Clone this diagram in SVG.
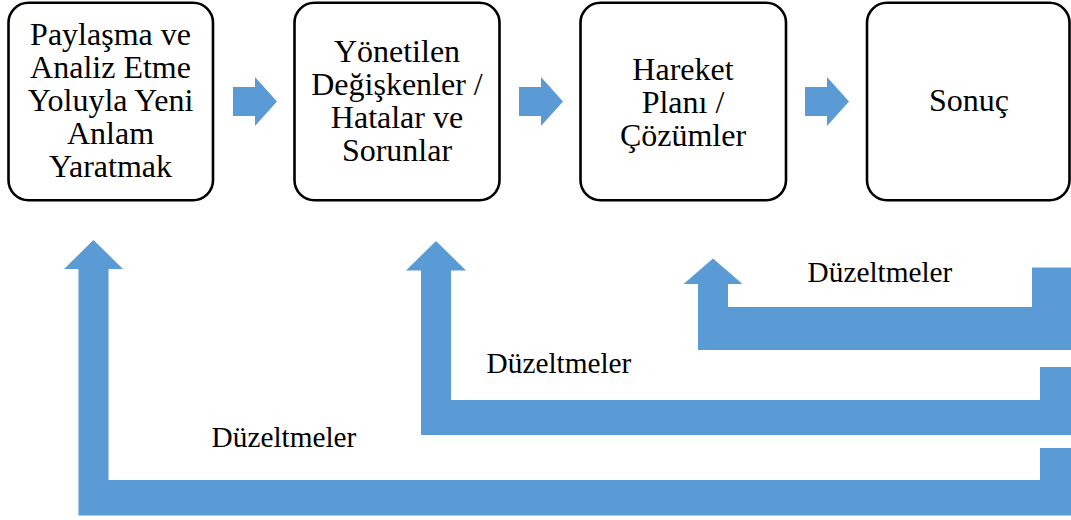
<svg xmlns="http://www.w3.org/2000/svg" width="1071" height="520" viewBox="0 0 1071 520">
  <style>
    .box { fill: #ffffff; stroke: #000000; stroke-width: 2.6; }
    .txt { font-family: 'Liberation Serif', 'Times New Roman', serif; font-size: 32px; fill: #000000; text-anchor: middle; }
    .lbl { font-family: 'Liberation Serif', 'Times New Roman', serif; font-size: 29.3px; fill: #000000; text-anchor: middle; }
    .flow { fill: #5B9BD5; }
  </style>
  <defs>
    <!-- block arrow pointing right, origin at shaft's left-centre -->
    <polygon id="right-arrow" class="flow" points="0,-14.5 22,-14.5 22,-24.5 44,0 22,24.5 22,14.5 0,14.5"/>
  </defs>
  <rect width="1071" height="520" fill="#ffffff"/>

  <!-- connectors: forward arrows and feedback loops -->
  <g id="connectors">
    <use href="#right-arrow" x="233" y="101.5"/>
    <use href="#right-arrow" x="519" y="101.5"/>
    <use href="#right-arrow" x="805" y="101.5"/>

    <!-- feedback to box 1 -->
    <polygon class="flow" points="93.5,240 123,269 108.5,269 108.5,480 1040,480 1040,448 1071,448 1071,515.5 78.5,515.5 78.5,269 64,269"/>
    <!-- feedback to box 2 -->
    <polygon class="flow" points="436,241 466,270.5 451,270.5 451,400 1040,400 1040,367 1071,367 1071,435 421,435 421,270.5 406,270.5"/>
    <!-- feedback to box 3 -->
    <polygon class="flow" points="713,258.5 742.5,284 728,284 728,307 1032,307 1032,267.5 1071,267.5 1071,350 698,350 698,284 683.5,284"/>

    <text class="lbl" x="880" y="282">Düzeltmeler</text>
    <text class="lbl" x="559" y="373">Düzeltmeler</text>
    <text class="lbl" x="284" y="446.5">Düzeltmeler</text>
  </g>

  <g id="node-paylasma">
    <rect class="box" x="8.5" y="2.7" width="204.5" height="197.5" rx="20"/>
    <text class="txt" x="110.5" y="45">Paylaşma ve</text>
    <text class="txt" x="110.5" y="78">Analiz Etme</text>
    <text class="txt" x="110.5" y="111">Yoluyla Yeni</text>
    <text class="txt" x="110.5" y="144">Anlam</text>
    <text class="txt" x="110.5" y="177">Yaratmak</text>
  </g>

  <g id="node-yonetilen">
    <rect class="box" x="294.5" y="2.7" width="205" height="197.5" rx="20"/>
    <text class="txt" x="397" y="62">Yönetilen</text>
    <text class="txt" x="397" y="95">Değişkenler /</text>
    <text class="txt" x="397" y="128">Hatalar ve</text>
    <text class="txt" x="397" y="161">Sorunlar</text>
  </g>

  <g id="node-hareket">
    <rect class="box" x="580.5" y="2.7" width="205.5" height="197.5" rx="20"/>
    <text class="txt" x="683" y="80">Hareket</text>
    <text class="txt" x="683" y="113">Planı /</text>
    <text class="txt" x="683" y="146">Çözümler</text>
  </g>

  <g id="node-sonuc">
    <rect class="box" x="867" y="2.7" width="202.5" height="197.5" rx="20"/>
    <text class="txt" x="969" y="111">Sonuç</text>
  </g>
</svg>
